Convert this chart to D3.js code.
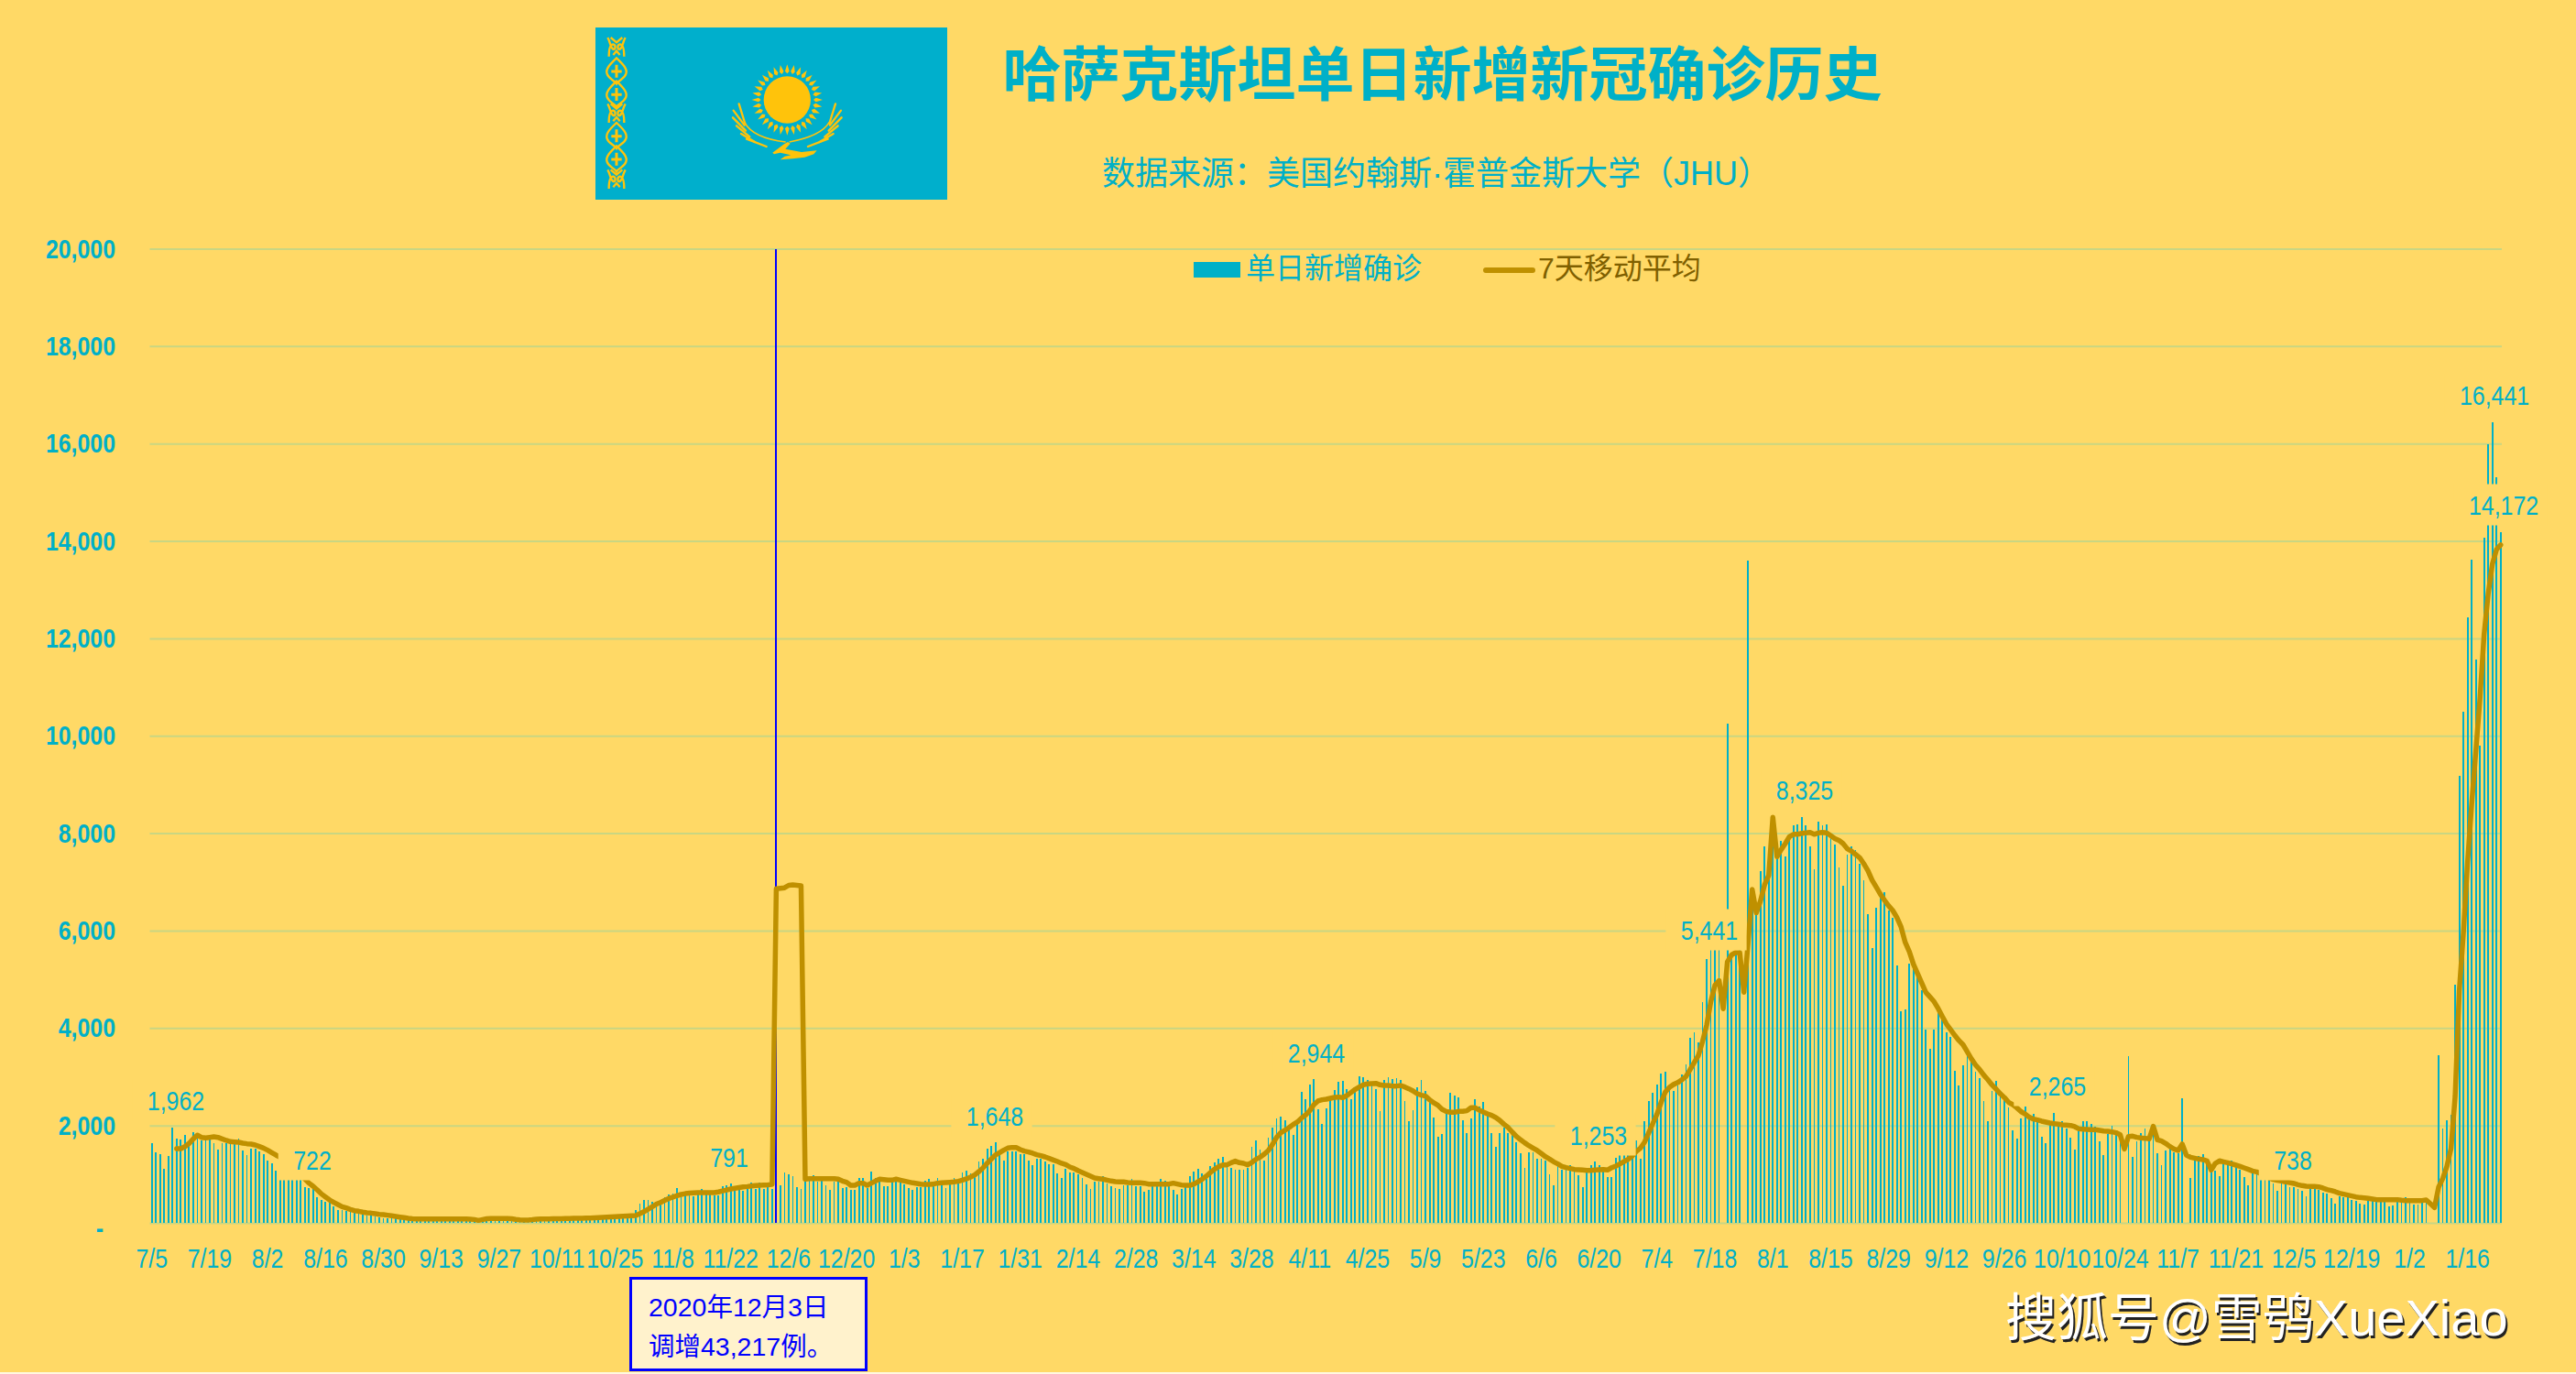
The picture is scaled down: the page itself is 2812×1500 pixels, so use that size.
<!DOCTYPE html>
<html lang="zh">
<head>
<meta charset="utf-8">
<script src="https://cdn.jsdelivr.net/npm/d3@7/dist/d3.min.js"></script>
<style>
html,body{margin:0;padding:0;background:#fff8e0;width:2812px;height:1500px;overflow:hidden}
svg{display:block}
text{font-family:"Liberation Sans","Noto Sans CJK SC",sans-serif}
</style>
</head>
<body>
<svg id="c" width="2812" height="1500"></svg>
<script>
// ---------- data ----------
const title = "哈萨克斯坦单日新增新冠确诊历史";
const subtitle = "数据来源：美国约翰斯·霍普金斯大学（JHU）";
const legendBar = "单日新增确诊";
const legendLine = "7天移动平均";
const noteLines = ["2020年12月3日", "调增43,217例。"];
const watermark = "搜狐号@雪鸮XueXiao";
const yTicks = [0,2000,4000,6000,8000,10000,12000,14000,16000,18000,20000];
const xTickLabels = ["7/5","7/19","8/2","8/16","8/30","9/13","9/27","10/11","10/25","11/8","11/22","12/6","12/20","1/3","1/17","1/31","2/14","2/28","3/14","3/28","4/11","4/25","5/9","5/23","6/6","6/20","7/4","7/18","8/1","8/15","8/29","9/12","9/26","10/10","10/24","11/7","11/21","12/5","12/19","1/2","1/16"];
const xTickEvery = 14;
const adjustedDay = 151; // 2020-12-03
const daily = [
1643,1442,1410,1110,1373,1962,1730,1710,1805,1660,
1862,1787,1690,1687,1724,1630,1505,1630,1630,1693,
1630,1724,1486,1392,1524,1524,1461,1410,1273,1223,
1066,1000,960,950,920,900,880,733,708,690,
520,470,439,407,345,263,263,238,263,232,
207,170,157,145,125,113,100,95,100,85,
80,90,75,70,85,80,70,65,75,85,
70,60,75,85,70,60,55,65,70,45,
60,75,80,70,65,85,80,70,50,55,
45,50,60,75,85,70,65,80,85,75,
70,85,95,100,85,75,90,85,58,100,
110,105,95,130,140,125,120,259,389,461,
461,432,439,475,526,576,605,706,583,583,
605,547,605,691,583,583,569,569,749,778,
814,655,691,655,691,821,691,821,691,734,
691,43217,763,1030,990,953,740,690,846,909,
972,846,953,765,677,846,909,708,733,671,
683,922,922,721,1053,922,909,752,752,878,
922,828,784,708,671,740,740,859,897,752,
922,815,715,815,922,878,1035,1066,1016,1035,
1260,1317,1524,1580,1648,1486,1273,1473,1473,1473,
1410,1410,1280,1185,1317,1317,1254,1198,1204,1016,
922,1116,1035,1035,990,922,784,690,846,846,
959,803,752,708,696,771,765,897,752,752,
640,671,752,752,897,865,846,671,583,690,
752,953,1053,1110,1016,909,1160,1235,1317,1348,
1160,1129,1097,1097,1097,1129,1568,1693,1499,1285,
1743,1956,2138,2182,2107,1975,1806,2038,2690,2539,
2840,2944,2332,2025,2351,2552,2727,2897,2916,2740,
2539,2727,3010,2990,2928,2884,2746,2301,2928,2990,
2960,2972,2934,2508,2088,2320,2778,2934,2709,2539,
2163,1768,1825,2257,2665,2621,2571,2100,1837,2144,
2539,2383,2477,2194,1850,1555,1850,1962,1850,1818,
1662,1423,1129,1442,1455,1317,1317,1285,1003,765,
1160,1097,1147,1185,1066,972,740,1035,1191,1253,
1191,1129,940,940,1329,1392,1392,1392,1379,1690,
1325,2093,2506,2669,2832,3072,3101,2759,2717,2813,
3053,3245,3802,3917,3706,4541,5424,5600,5650,5620,
0,10253,5500,5560,5600,0,13594,6700,6557,7229,
7728,7180,8140,7660,7850,7517,7968,8160,8180,8325,
8160,7728,7258,8237,8160,8189,7997,7776,7296,6922,
7565,7738,7661,7373,7027,6336,5645,6461,6700,6797,
6413,6269,5280,4349,4378,5328,5213,5069,4781,3965,
3581,3965,4397,4205,3917,3821,3130,2813,3226,3485,
3341,3101,2976,2496,2093,2717,2909,2669,2621,2362,
1901,1728,2141,2381,2189,2237,2069,1768,1630,2006,
2265,2006,2082,1931,1756,1505,1881,2088,2088,2025,
1975,1674,1392,1818,1994,1881,1662,0,3417,1348,
1674,1837,1931,1693,1800,1430,1179,1486,1568,1442,
1423,2558,0,922,1348,1379,1411,1285,1100,1066,
959,1222,1254,1285,1191,1097,940,771,1035,1066,
1000,960,930,803,658,865,784,740,740,702,
658,545,690,752,677,627,596,502,395,545,
533,520,470,451,395,376,451,502,533,439,
439,345,357,439,420,520,408,376,376,408,
408,0,0,3436,1944,2100,2220,4884,9180,10500,
12432,13620,11568,9800,14064,15984,16441,15300,14172
];
const avg7 = [
null,null,null,null,null,null,1524,1524,1567,1630,
1724,1800,1755,1743,1755,1768,1755,1724,1693,1668,
1661,1655,1636,1624,1617,1599,1567,1536,1492,1442,
1392,1348,1300,1240,1170,1100,1020,900,815,752,
677,595,533,470,420,376,332,307,276,250,
238,220,207,200,188,175,170,157,145,132,
119,107,94,85,81,80,80,80,80,81,
80,80,79,80,78,78,80,76,68,50,
68,85,88,88,88,88,87,85,70,60,
56,58,65,75,80,81,82,84,86,86,
88,90,94,94,96,98,100,104,108,113,
116,120,125,130,135,140,145,150,190,230,
280,330,384,420,460,500,530,560,583,600,
610,615,620,620,620,620,620,635,655,675,
695,710,725,737,745,755,765,772,778,780,
791,6860,6870,6880,6930,6940,6930,6920,897,909,
909,909,909,909,909,909,897,859,834,771,
771,815,815,771,815,859,897,890,878,878,
897,878,859,840,821,809,796,790,790,796,
815,821,828,834,840,853,878,903,940,984,
1053,1129,1223,1310,1392,1442,1492,1536,1549,1549,
1505,1473,1455,1430,1398,1379,1354,1323,1292,1260,
1223,1198,1147,1116,1072,1035,997,959,922,909,
897,878,859,846,840,840,828,821,821,821,
815,796,796,796,796,796,796,815,796,778,
771,771,796,846,897,959,1035,1104,1154,1191,
1191,1235,1267,1235,1222,1191,1241,1304,1348,1410,
1486,1611,1755,1850,1900,1956,2019,2069,2151,2213,
2301,2427,2502,2527,2539,2558,2577,2583,2571,2615,
2677,2740,2790,2834,2853,2859,2865,2834,2821,2821,
2809,2809,2821,2790,2752,2709,2652,2621,2602,2527,
2464,2414,2332,2288,2270,2270,2288,2288,2301,2364,
2364,2314,2276,2238,2207,2163,2100,2025,1956,1862,
1774,1705,1643,1586,1536,1486,1423,1360,1310,1254,
1210,1160,1135,1116,1097,1091,1085,1078,1078,1085,
1091,1097,1085,1133,1162,1210,1258,1306,1373,1469,
1536,1661,1853,2045,2237,2477,2688,2784,2842,2880,
2938,3005,3149,3293,3437,3725,4061,4541,4877,4973,
4397,5357,5501,5549,5549,4733,5741,6845,6365,6605,
6941,7133,8325,7517,7661,7786,7930,7978,7978,7997,
8006,8016,7978,8006,8016,8006,7949,7891,7853,7786,
7680,7632,7565,7498,7373,7229,7037,6893,6749,6624,
6509,6413,6269,6077,5760,5568,5309,5117,4925,4733,
4637,4541,4397,4234,4080,3965,3850,3744,3658,3514,
3370,3245,3149,3034,2938,2832,2746,2650,2573,2477,
2429,2362,2285,2237,2170,2131,2113,2088,2069,2050,
2037,2025,2012,2006,2000,1975,1931,1925,1918,1912,
1912,1900,1887,1881,1868,1850,1812,1517,1774,1780,
1756,1743,1737,1724,1981,1705,1680,1630,1568,1517,
1486,1618,1392,1348,1329,1310,1298,1273,1085,1222,
1273,1254,1235,1210,1185,1160,1129,1097,1066,1047,
1009,972,928,890,872,859,840,828,809,784,
765,752,746,746,740,715,683,665,640,608,
589,571,552,533,520,514,502,489,477,477,
477,477,477,477,464,458,458,458,458,458,
470,395,313,733,909,1160,1524,2600,4764,5964,
7404,8604,9684,10764,12084,12924,13524,13824,13920
];
const peakLabels = ["1,962","722","791","1,648","2,944","1,253","5,441","8,325","2,265","738","16,441","14,172"];

// ---------- layout ----------
const BG="#FFD966", TEAL="#00B0C8", GOLD="#BF9000", GRID="#C9D682", BLUE="#0000FF";
const plotLeft=163.5, plotRight=2732, plotTop=271.5, plotBase=1335;
const NARROW=0.83, NUMSIZE=30;
const labelCenters = [[192,1201],[341,1266],[796,1263],[1086,1218],[1437,1149],[1745,1239],[1866,1015],[1970,862],[2246,1185],[2503,1266],[2723,431],[2733,551]];

const svg=d3.select("#c");
svg.append("rect").attr("width",2812).attr("height",1498).attr("fill",BG);

const xs=d3.scaleBand().domain(d3.range(daily.length)).range([plotLeft,plotRight]).paddingInner(.6).paddingOuter(.3);
const ys=d3.scaleLinear().domain([0,20000]).range([plotBase,plotTop]).clamp(true);

// y axis + gridlines
const yAxis=d3.axisLeft(ys).tickValues(yTicks).tickSize(-(2731-plotLeft)).tickPadding(0)
  .tickFormat(v=>v===0?"-":d3.format(",")(v));
const gy=svg.append("g").attr("transform",`translate(${plotLeft},0)`).call(yAxis);
gy.select(".domain").remove();
gy.selectAll("line").attr("stroke",GRID).attr("stroke-width",2);
gy.selectAll("text").attr("x",0).attr("fill",TEAL).attr("font-size",NUMSIZE).attr("font-weight","bold")
  .attr("transform",d=>`translate(${(d===0?113:126)-plotLeft},0) scale(${NARROW},1)`)
  .filter(d=>d===0).attr("dy","0.5em");

// bars
const half=xs.bandwidth()/2;
svg.append("g").selectAll("rect").data(daily).join("rect")
  .attr("x",(d,i)=>xs(i))
  .attr("width",xs.bandwidth())
  .attr("y",d=>ys(d))
  .attr("height",d=>plotBase-ys(d))
  .attr("fill",(d,i)=>i===adjustedDay?BLUE:TEAL)
  .attr("shape-rendering","crispEdges");

// moving average
const avgLine=d3.line().defined(d=>d!==null).x((d,i)=>xs(i)+half).y(d=>ys(d)).curve(d3.curveLinear);
svg.append("path").datum(avg7).attr("d",avgLine).attr("fill","none")
  .attr("stroke",GOLD).attr("stroke-width",5.5).attr("stroke-linejoin","round").attr("stroke-linecap","round");

// x axis labels
const xAxis=d3.axisBottom(xs)
  .tickValues(xTickLabels.map((d,i)=>i*xTickEvery))
  .tickFormat(i=>xTickLabels[i/xTickEvery]).tickSize(0).tickPadding(0);
const gx=svg.append("g").attr("transform",`translate(0,${plotBase})`).call(xAxis);
gx.select(".domain").remove();
gx.selectAll("text").attr("y",0).attr("dy","0.35em").attr("fill",TEAL).attr("font-size",NUMSIZE).attr("text-anchor","middle")
  .attr("transform",`translate(0,38) scale(${NARROW},1)`);

// data labels with opaque boxes
const lg=svg.append("g");
peakLabels.forEach((t,k)=>{
  const [cx,cy]=labelCenters[k];
  const tx=lg.append("text").attr("transform",`translate(${cx},${cy}) scale(${NARROW},1)`).attr("dy","0.35em").attr("text-anchor","middle")
    .attr("fill",TEAL).attr("font-size",NUMSIZE).text(t);
  const w=tx.node().getComputedTextLength()*NARROW;
  lg.insert("rect","text").attr("x",cx-3.5-w/2-13).attr("width",w+26).attr("y",cy-22.5).attr("height",45).attr("fill",BG);
});

// title block
svg.append("text").attr("x",1574.5).attr("y",82).attr("dy","0.35em").attr("text-anchor","middle")
  .attr("fill",TEAL).attr("font-size",64).attr("font-weight","bold").text(title);
svg.append("text").attr("x",1568).attr("y",189).attr("dy","0.35em").attr("text-anchor","middle")
  .attr("fill",TEAL).attr("font-size",36).text(subtitle);

// legend
svg.append("rect").attr("x",1303).attr("y",286).attr("width",51).attr("height",17).attr("fill",TEAL);
svg.append("text").attr("x",1360).attr("y",293).attr("dy","0.35em").attr("fill",TEAL).attr("font-size",32).text(legendBar);
svg.append("line").attr("x1",1622).attr("x2",1673).attr("y1",295).attr("y2",295).attr("stroke",GOLD).attr("stroke-width",6).attr("stroke-linecap","round");
svg.append("text").attr("x",1679).attr("y",293).attr("dy","0.35em").attr("fill","#7F6000").attr("font-size",32).text(legendLine);

// annotation
svg.append("rect").attr("x",688.5).attr("y",1395.5).attr("width",257).attr("height",100).attr("fill","#FFF2CC").attr("stroke",BLUE).attr("stroke-width",3);
noteLines.forEach((t,i)=>svg.append("text").attr("x",708).attr("y",[1427,1470][i]).attr("dy","0.35em").attr("fill",BLUE).attr("font-size",28.5).text(t));

// watermark
svg.append("text").attr("x",2189).attr("y",1438).attr("dy","0.35em").attr("fill","#fff").attr("font-size",56)
  .style("filter","drop-shadow(2px 3px 0 #222)").text(watermark);

// flag
const F="#FFC30B";
svg.append("rect").attr("x",650).attr("y",30).attr("width",384).attr("height",188).attr("fill","#00AFCC");
const fl=svg.append("g").attr("transform","translate(630,20) scale(0.3333)");
fl.append("circle").attr("cx",688).attr("cy",267).attr("r",77).attr("fill",F);
d3.range(32).forEach(k=>{
  const a=k*Math.PI/16, c=Math.cos(a), s=Math.sin(a), r0=86, r1=116, w=7;
  fl.append("path").attr("fill",F).attr("d",
    `M${688+c*r1},${267+s*r1} L${688+c*(r0+8)-s*w},${267+s*(r0+8)+c*w} L${688+c*r0},${267+s*r0} L${688+c*(r0+8)+s*w},${267+s*(r0+8)-c*w}Z`);
});
const feathers=[[530,280,550,345],[512,302,548,350],[510,325,552,368],[522,352,565,388],[537,378,582,405],[555,395,620,420]];
feathers.forEach(f=>{
  [[f[0],f[1],f[2],f[3]],[1376-f[0],f[1],1376-f[2],f[3]]].forEach(p=>{
    fl.append("line").attr("x1",p[0]).attr("y1",p[1]).attr("x2",p[2]).attr("y2",p[3]).attr("stroke",F).attr("stroke-width",7).attr("stroke-linecap","round");
  });
});
fl.append("path").attr("d","M548,340 Q575,392 683,405").attr("fill","none").attr("stroke",F).attr("stroke-width",5);
fl.append("path").attr("d","M826,340 Q800,385 695,405").attr("fill","none").attr("stroke",F).attr("stroke-width",5);
fl.append("path").attr("fill",F).attr("d","M640,440 L678,412 L690,405 L698,410 L682,428 L735,438 L785,433 L775,445 L745,455 L705,460 L665,463 L680,452 L700,448 L665,440 L645,445Z");
const orn=fl.append("g").attr("fill","none").attr("stroke",F).attr("stroke-width",7);
[172,248,384,460].forEach(c=>{
  orn.append("path").attr("d",`M129,${c-42} C108,${c-22} 92,${c-6} 98,${c+10} C104,${c+28} 122,${c+30} 129,${c+42} C136,${c+30} 154,${c+28} 160,${c+10} C166,${c-6} 150,${c-22} 129,${c-42}Z`);
  orn.append("path").attr("d",`M129,${c-20} V${c+22} M112,${c+2} H146`).attr("stroke-width",9);
});
[95,312,528].forEach(c=>{
  orn.append("path").attr("d",`M100,${c-32} C110,${c-15} 108,${c} 118,${c+6} C126,${c+10} 128,${c-8} 118,${c-10} C108,${c-10} 104,${c+10} 104,${c+30}`);
  orn.append("path").attr("d",`M158,${c-32} C148,${c-15} 150,${c} 140,${c+6} C132,${c+10} 130,${c-8} 140,${c-10} C150,${c-10} 154,${c+10} 154,${c+30}`);
  orn.append("path").attr("d",`M110,${c-32} L129,${c-16} L148,${c-32} M118,${c+25} L129,${c+12} L140,${c+25}`);
});
</script>
</body>
</html>
